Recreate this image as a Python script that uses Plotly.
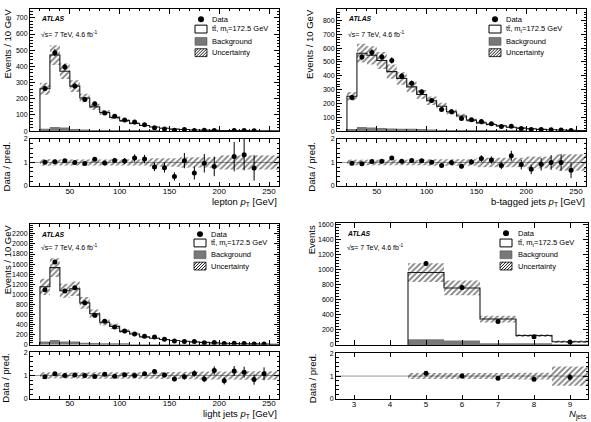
import math
import plotly.graph_objects as go

W, H = 591, 422
FONT = "Liberation Sans, Arial, sans-serif"

def fx(p):
    return p / W

def fy(p):
    return 1 - p / H

# ---------------- data ----------------
pt_centers = [25, 35, 45, 55, 65, 75, 85, 95, 105, 115, 125, 135,
              145, 155, 165, 175, 185, 195, 205, 215, 225, 235, 245, 255]

lep_pred = [262, 470, 370, 278, 205, 150, 115, 85, 65, 48, 35, 26,
            18, 12.5, 10.2, 7.3, 6.2, 4.8, 4.0, 3.2, 3.0, 2.6, 2.2, 1.9]
lep_data = [264, 485, 396, 279, 195, 170, 112, 92, 69, 57, 40, 21,
            14, 5, 11, 4, 6, 4, None, 4, 4, 2, None, None]
lep_bkg = [15, 25, 22, 14, 10, 7, 5, 4, 3, 3, 2, 2,
           1, 1, 1, 1, 1, 0.5, 0.5, 0.5, 0.5, 0.5, 0.5, 0.5]
lep_unc = [0.14, 0.13, 0.13, 0.13, 0.13, 0.13, 0.13, 0.13, 0.13, 0.13, 0.13, 0.18,
           0.18, 0.18, 0.22, 0.22, 0.22, 0.22, 0.3, 0.3, 0.3, 0.3, 0.3, 0.3]

bjet_pred = [252, 563, 548, 510, 430, 380, 320, 265, 220, 180, 140, 110,
             80, 60, 48, 38, 28, 22, 17, 13, 10, 8, 6, 5]
bjet_data = [244, 535, 568, 535, 511, 398, 346, 284, 222, 156, 140, 92,
             82, 70, 53, 33, 36, 20, 12, 12, 10, 8, 4, None]
bjet_bkg = [15, 30, 27, 22, 20, 18, 17, 16, 12, 8, 6, 5,
            4, 3, 3, 2, 2, 2, 1, 1, 1, 1, 1, 1]
bjet_unc = [0.12, 0.12, 0.12, 0.12, 0.12, 0.12, 0.12, 0.12, 0.14, 0.14, 0.14, 0.14,
            0.14, 0.2, 0.2, 0.2, 0.2, 0.2, 0.25, 0.25, 0.25, 0.35, 0.35, 0.35]

ljet_pred = [1150, 1530, 1070, 1110, 830, 615, 445, 365, 265, 213, 156, 130,
             105, 85, 70, 57, 47, 38, 31, 26, 21, 17, 14, 11]
ljet_data = [1090, 1640, 1067, 1133, 833, 587, 467, 353, 273, 213, 167, 152,
             107, 72, 66, 62, 40, 46, 24, 31, 24, 14, 15, None]
ljet_bkg = [65, 95, 65, 65, 40, 35, 15, 12, 10, 8, 6, 5,
            4, 4, 3, 3, 2, 2, 2, 1, 1, 1, 1, 1]
ljet_unc = [0.14, 0.12, 0.13, 0.13, 0.14, 0.14, 0.14, 0.14, 0.14, 0.14, 0.14, 0.14,
            0.15, 0.15, 0.16, 0.16, 0.17, 0.17, 0.17, 0.17, 0.18, 0.18, 0.18, 0.18]

njet_centers = [5, 6, 7, 8, 9]
njet_pred = [965, 760, 345, 125, 42]
njet_data = [1085, 765, 312, 108, 40]
njet_bkg = [75, 58, 22, 10, 5]
njet_unc = [0.13, 0.13, 0.13, 0.15, 0.42]

# ---------------- panel layout ----------------
panels = [
    dict(centers=pt_centers, width=10, pred=lep_pred, data=lep_data, bkg=lep_bkg, unc=lep_unc,
         xrange=[10, 260], ymax=755, ydtick=100, yminor=20, xdtick=50, xminor=10,
         fx_=(30, 279), my=(5, 129.3), ry=(137.3, 185),
         ytitle="Events / 10 GeV", ytp=(7.5, 3), rtp=(6.7, 138),
         xtitle="lepton <i>p</i><sub>T</sub> [GeV]", xtp=(279, 201),
         atlas=(39, 15), sqrt=(39, 31), lbx=195, ltx=210, lys=(15.5, 25.5, 38, 49.5)),
    dict(centers=pt_centers, width=10, pred=bjet_pred, data=bjet_data, bkg=bjet_bkg, unc=bjet_unc,
         xrange=[10, 260], ymax=883, ydtick=100, yminor=20, xdtick=50, xminor=10,
         fx_=(337, 586), my=(5, 129.3), ry=(137.3, 185),
         ytitle="Events / 10 GeV", ytp=(310, 3), rtp=(312, 138),
         xtitle="b-tagged jets <i>p</i><sub>T</sub> [GeV]", xtp=(587, 201),
         atlas=(346, 15), sqrt=(346, 31), lbx=489, ltx=504, lys=(15.5, 25.5, 38, 49.5)),
    dict(centers=pt_centers, width=10, pred=ljet_pred, data=ljet_data, bkg=ljet_bkg, unc=ljet_unc,
         xrange=[10, 260], ymax=2390, ydtick=200, yminor=40, xdtick=50, xminor=10,
         fx_=(30, 279), my=(224, 346.5), ry=(354, 401.5),
         ytitle="Events / 10 GeV", ytp=(7, 222), rtp=(5.5, 353),
         xtitle="light jets <i>p</i><sub>T</sub> [GeV]", xtp=(279, 417),
         atlas=(39, 234), sqrt=(39, 247), lbx=194, ltx=209, lys=(234, 243, 255, 266.5)),
    dict(centers=njet_centers, width=1, pred=njet_pred, data=njet_data, bkg=njet_bkg, unc=njet_unc,
         xrange=[2.5, 9.5], ymax=1622, ydtick=200, yminor=40, xdtick=1, xminor=None,
         fx_=(336, 588), my=(223, 346.7), ry=(355, 401.7),
         ytitle="Events", ytp=(311.5, 223), rtp=(312, 353),
         xtitle="<i>N</i><sub>jets</sub>", xtp=(589, 417),
         atlas=(345, 233), sqrt=(345, 247), lbx=500, ltx=516, lys=(233, 243, 255, 266.5)),
]

fig = go.Figure()
shapes = []
annotations = []
layout_axes = {}

HATCH = dict(shape="/", fgcolor="black", bgcolor="rgba(0,0,0,0)", size=4,
             solidity=0.45, fillmode="overlay")


def axname(i):
    return "" if i == 1 else str(i)


def hatch_box(x0, y0, x1, y1, spacing=3.0):
    out = []
    c = x0 + y0 + spacing
    while c < x1 + y1:
        xa = max(x0, c - y1)
        xb = min(x1, c - y0)
        if xb > xa:
            out.append(dict(type="line", xref="paper", yref="paper",
                            x0=fx(xa), y0=fy(c - xa), x1=fx(xb), y1=fy(c - xb),
                            line=dict(color="black", width=0.9)))
        c += spacing
    return out


for k, P in enumerate(panels):
    im = 2 * k + 1
    ir = 2 * k + 2
    xm, ym = "x" + axname(im), "y" + axname(im)
    xr, yr = "x" + axname(ir), "y" + axname(ir)
    w = P["width"]
    cen = P["centers"]
    pred, data, bkg, unc = P["pred"], P["data"], P["bkg"], P["unc"]
    edges = [c - w / 2 for c in cen] + [cen[-1] + w / 2]

    # background
    fig.add_trace(go.Bar(x=cen, y=bkg, width=w, xaxis=xm, yaxis=ym, opacity=1,
                         marker=dict(color="#787878", line=dict(width=0)),
                         showlegend=False, hoverinfo="skip"))
    # prediction outline (step)
    sx = [edges[0]] + edges
    sy = [0] + list(pred) + [pred[-1]]
    fig.add_trace(go.Scatter(x=sx, y=sy, mode="lines", line=dict(color="#1a1a1a", width=1.1, shape="hv"),
                             xaxis=xm, yaxis=ym, showlegend=False, hoverinfo="skip"))
    # uncertainty band
    fig.add_trace(go.Bar(x=cen, y=[2 * u * p for u, p in zip(unc, pred)],
                         base=[p * (1 - u) for u, p in zip(unc, pred)], width=w,
                         xaxis=xm, yaxis=ym, opacity=1,
                         marker=dict(color="rgba(0,0,0,0)", line=dict(width=0), pattern=HATCH),
                         showlegend=False, hoverinfo="skip"))
    # data
    dx = [c for c, d in zip(cen, data) if d is not None]
    dy = [d for d in data if d is not None]
    fig.add_trace(go.Scatter(x=dx, y=dy, mode="markers",
                             marker=dict(color="black", size=5),
                             error_y=dict(type="data", array=[math.sqrt(d) for d in dy],
                                          color="black", thickness=1, width=0),
                             xaxis=xm, yaxis=ym, showlegend=False, hoverinfo="skip"))

    # ratio panel
    fig.add_trace(go.Bar(x=cen, y=[2 * u for u in unc], base=[1 - u for u in unc], width=w,
                         xaxis=xr, yaxis=yr, opacity=1,
                         marker=dict(color="rgba(0,0,0,0)", line=dict(width=0), pattern=HATCH),
                         showlegend=False, hoverinfo="skip"))
    rx, ry_, re = [], [], []
    for c, d, p in zip(cen, data, pred):
        if d is None:
            continue
        rx.append(c)
        ry_.append(d / p)
        re.append(math.sqrt(d) / p)
    fig.add_trace(go.Scatter(x=rx, y=ry_, mode="markers",
                             marker=dict(color="black", size=5),
                             error_y=dict(type="data", array=re, color="black", thickness=1, width=0),
                             xaxis=xr, yaxis=yr, showlegend=False, hoverinfo="skip"))
    shapes.append(dict(type="line", xref=xr, yref=yr, x0=P["xrange"][0], x1=P["xrange"][1],
                       y0=1, y1=1, line=dict(color="#999999", width=1), layer="below"))

    # axes
    x0p, x1p = P["fx_"]
    common = dict(showline=True, linecolor="black", linewidth=1, mirror="allticks",
                  ticks="inside", tickcolor="black", tickwidth=1, showgrid=False, zeroline=False,
                  tickfont=dict(family=FONT, size=7, color="black"))
    xminor = dict(ticks="inside", ticklen=2.5, tickcolor="black", tickwidth=1,
                  dtick=P["xminor"], tick0=0) if P["xminor"] else None
    xa_main = dict(common, domain=[fx(x0p), fx(x1p)], anchor=ym, range=P["xrange"],
                   dtick=P["xdtick"], tick0=0, ticklen=5, showticklabels=False, matches=xr)
    xa_rat = dict(common, domain=[fx(x0p), fx(x1p)], anchor=yr, range=P["xrange"],
                  dtick=P["xdtick"], tick0=0, ticklen=4, ticklabelstandoff=-3,
                  tickfont=dict(family=FONT, size=8, color="black"))
    if xminor:
        xa_main["minor"] = xminor
        xa_rat["minor"] = xminor
    ya_main = dict(common, domain=[fy(P["my"][1]), fy(P["my"][0])], anchor=xm,
                   range=[0, P["ymax"]], dtick=P["ydtick"], tick0=0, ticklen=5,
                   minor=dict(ticks="inside", ticklen=2.5, tickcolor="black", tickwidth=1,
                              dtick=P["yminor"], tick0=0))
    ya_rat = dict(common, domain=[fy(P["ry"][1]), fy(P["ry"][0])], anchor=xr,
                  range=[0, 2], dtick=1, tick0=0, ticklen=5,
                  minor=dict(ticks="inside", ticklen=2.5, tickcolor="black", tickwidth=1,
                             dtick=0.2, tick0=0))
    layout_axes["xaxis" + axname(im)] = xa_main
    layout_axes["yaxis" + axname(im)] = ya_main
    layout_axes["xaxis" + axname(ir)] = xa_rat
    layout_axes["yaxis" + axname(ir)] = ya_rat

    # titles
    annotations.append(dict(text=P["ytitle"], x=fx(P["ytp"][0]), y=fy(P["ytp"][1]), xref="paper",
                            yref="paper", xanchor="center", yanchor="top", textangle=-90,
                            showarrow=False, font=dict(family=FONT, size=9.5, color="black")))
    annotations.append(dict(text="Data / pred.", x=fx(P["rtp"][0]), y=fy(P["rtp"][1]), xref="paper",
                            yref="paper", xanchor="center", yanchor="top", textangle=-90,
                            showarrow=False, font=dict(family=FONT, size=9.5, color="black")))
    annotations.append(dict(text=P["xtitle"], x=fx(P["xtp"][0]), y=fy(P["xtp"][1]), xref="paper",
                            yref="paper", xanchor="right", yanchor="middle",
                            showarrow=False, font=dict(family=FONT, size=9.5, color="black")))
    annotations.append(dict(text="<b><i>ATLAS</i></b>", x=fx(P["atlas"][0]), y=fy(P["atlas"][1]),
                            xref="paper", yref="paper", xanchor="left", yanchor="middle",
                            showarrow=False, font=dict(family=FONT, size=6.8, color="black")))
    annotations.append(dict(text="√s= 7 TeV, 4.6 fb<sup>-1</sup>", x=fx(P["sqrt"][0]),
                            y=fy(P["sqrt"][1]), xref="paper", yref="paper", xanchor="left",
                            yanchor="middle", showarrow=False,
                            font=dict(family=FONT, size=7, color="black")))

    # legend (drawn by hand)
    bx = P["lbx"]
    yd, yt, yb, yu = P["lys"]
    shapes.append(dict(type="circle", xref="paper", yref="paper",
                       x0=fx(bx + 6 - 3), x1=fx(bx + 6 + 3), y0=fy(yd + 3), y1=fy(yd - 3),
                       fillcolor="black", line=dict(color="black", width=0)))
    shapes.append(dict(type="rect", xref="paper", yref="paper",
                       x0=fx(bx), x1=fx(bx + 12), y0=fy(yt + 4), y1=fy(yt - 4),
                       fillcolor="white", line=dict(color="black", width=1)))
    shapes.append(dict(type="rect", xref="paper", yref="paper",
                       x0=fx(bx), x1=fx(bx + 12), y0=fy(yb + 4), y1=fy(yb - 4),
                       fillcolor="#787878", line=dict(color="#555555", width=0.6)))
    shapes.extend(hatch_box(bx, yu - 4, bx + 12, yu + 4))
    shapes.append(dict(type="rect", xref="paper", yref="paper",
                       x0=fx(bx), x1=fx(bx + 12), y0=fy(yu + 4), y1=fy(yu - 4),
                       line=dict(color="black", width=0.8)))
    for txt, yy in [("Data", yd), ("tt̄, m<sub>t</sub>=172.5 GeV", yt),
                    ("Background", yb), ("Uncertainty", yu)]:
        annotations.append(dict(text=txt, x=fx(P["ltx"]), y=fy(yy), xref="paper", yref="paper",
                                xanchor="left", yanchor="middle", showarrow=False,
                                font=dict(family=FONT, size=7.5, color="black")))

fig.update_layout(width=W, height=H, margin=dict(l=0, r=0, t=0, b=0),
                  paper_bgcolor="white", plot_bgcolor="white", barmode="overlay",
                  showlegend=False, shapes=shapes, annotations=annotations,
                  font=dict(family=FONT, color="black"), **layout_axes)

fig.write_html("out.html", config={"displayModeBar": False},
               post_script="document.body.style.margin='0px';")
